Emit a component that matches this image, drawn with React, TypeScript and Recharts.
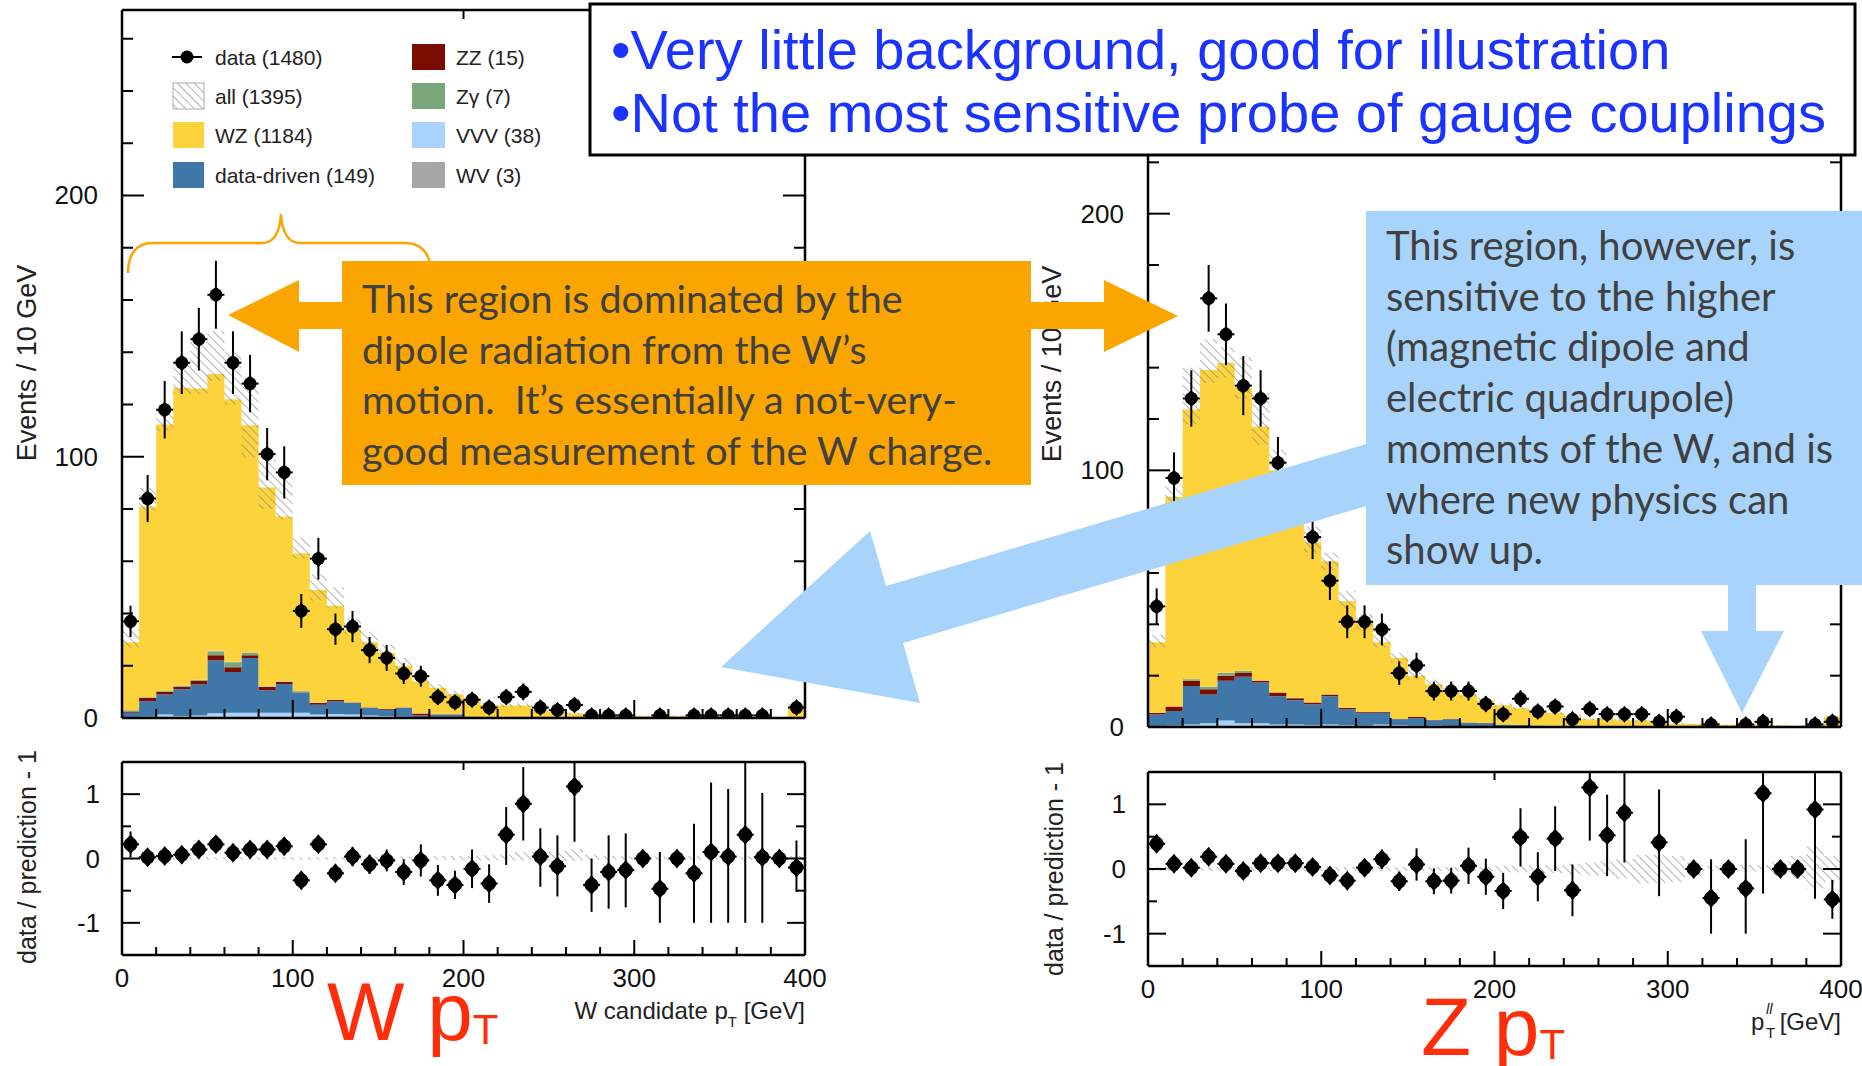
import React from "react";
import { ComposedChart, Area, Scatter, ErrorBar, XAxis, YAxis } from "recharts";

// ---- binning / axes ----
const binEdges = [0, 10, 20, 30, 40, 50, 60, 70, 80, 90, 100, 110, 120, 130, 140, 150, 160, 170, 180, 190,
  200, 210, 220, 230, 240, 250, 260, 270, 280, 290, 300, 310, 320, 330, 340, 350, 360, 370, 380, 390];
const binWidth = 10;
const xMax = 400;
const xTicks = [0, 20, 40, 60, 80, 100, 120, 140, 160, 180, 200, 220, 240, 260, 280, 300, 320, 340, 360, 380, 400];
const yTicksMain = [0, 20, 40, 60, 80, 100, 120, 140, 160, 180, 200, 220, 240, 260];
const yTicksRatio = [-1.5, -1, -0.5, 0, 0.5, 1, 1.5];

// ---- W candidate pT (left) ----
const wData = [37, 84, 118, 136, 145, 162, 136, 128, 101, 94, 41, 61, 34, 35, 26, 23, 17, 16, 8, 6,
  7, 4, 8, 10, 4, 3, 5, 1, 1, 1, null, 1, null, 1, 1, 1, 1, 1, null, 4];
const wDataErr = [6, 9, 11, 12, 12, 13, 12, 11, 10, 10, 6.5, 8, 6, 6, 5, 5, 4, 4, 3, 2.5,
  2.6, 2, 2.8, 3.2, 2, 1.7, 2.2, 1, 1, 1, 0, 1, 0, 1, 1, 1, 1, 1, 0, 2];
const wVVV = [0.3, 0.5, 1.3, 0.8, 1, 1.8, 2, 2, 2, 2, 2, 1.3, 1.5, 1.3, 1, 0.8, 0.5, 0.3, 0.3, 0.3,
  0.2, 0.2, 0.1, 0.1, 0.1, 0.1, 0.1, 0.1, 0.1, 0.1, 0.1, 0.1, 0.1, 0.1, 0.1, 0.1, 0.1, 0.1, 0.1, 0.1];
const wDD = [1.7, 5.9, 7.7, 10.2, 11.8, 20.2, 15.6, 21, 8.6, 11, 7.6, 3.8, 4.9, 4.4, 2.8, 2.4, 3.3, 0.7, 1, 1,
  0.3, 0.2, 0.2, 0.2, 0.2, 0.2, 0.2, 0.1, 0.1, 0.1, 0.1, 0.1, 0.1, 0.1, 0.1, 0.1, 0.1, 0.1, 0.1, 0.1];
const wZZ = [0.5, 1.3, 1, 1, 1.5, 2, 1.8, 1, 1.3, 0.8, 0.2, 0.6, 0.6, 0.2, 0.2, 0.2, 0.2, 0.7, 0.1, 0.1,
  0.1, 0, 0, 0, 0, 0, 0, 0, 0, 0, 0, 0, 0, 0, 0, 0, 0, 0, 0, 0];
const wZg = [0.5, 0.2, 0.2, 0.3, 0.2, 1.5, 1.9, 1, 0.2, 0.2, 0.4, 0.1, 0, 0, 0, 0, 0, 0, 0, 0,
  0, 0, 0, 0, 0, 0, 0, 0, 0, 0, 0, 0, 0, 0, 0, 0, 0, 0, 0, 0];
const wWV = [0, 0, 0.1, 0.1, 0.1, 0.2, 0.2, 0.1, 0.1, 0.1, 0.1, 0, 0, 0, 0, 0, 0, 0, 0, 0,
  0, 0, 0, 0, 0, 0, 0, 0, 0, 0, 0, 0, 0, 0, 0, 0, 0, 0, 0, 0];
const wWZ = [26, 73, 102, 114, 111.5, 106, 100.5, 87, 76, 63, 52.8, 43.2, 36, 28, 25, 21.6, 16, 12.3, 10.2, 7.7,
  6.9, 4.6, 4.5, 4.5, 2.7, 2, 1.4, 0.8, 0.8, 0.8, 0.6, 0.6, 0.6, 0.3, 0.3, 0.3, 0.3, 0.3, 0.2, 4.6];
const wAllLo = [27, 79, 110, 124, 124, 129, 120, 100, 80, 76, 61, 45, 42, 32, 27, 23, 18, 13, 10.5, 8,
  6.8, 4.5, 4.2, 4.2, 2.6, 2, 1.4, 0.8, 0.8, 0.8, 0.6, 0.6, 0.6, 0.3, 0.3, 0.3, 0.3, 0.3, 0.2, 4.2];
const wAllHi = [34, 88, 120, 136, 144, 148, 140, 127, 99, 92, 69, 55, 50, 38, 33, 28, 23, 16, 13, 10.5,
  8.5, 6, 5.6, 5.6, 3.6, 2.8, 2.1, 1.3, 1.3, 1.3, 1.1, 1.1, 1.1, 0.6, 0.6, 0.6, 0.6, 0.6, 0.5, 5.5];
const wRatio = [0.22, 0.02, 0.04, 0.06, 0.14, 0.22, 0.09, 0.14, 0.14, 0.19, -0.34, 0.22, -0.23, 0.03, -0.09, -0.03, -0.21, -0.03, -0.34, -0.41,
  -0.16, -0.39, 0.37, 0.85, 0.03, -0.12, 1.12, -0.41, -0.21, -0.18, 0, -0.47, 0, -0.23, 0.1, 0.03, 0.37, 0.02, 0, -0.14];
const wRatioLo = [0.2, 0.05, 0.05, 0.05, 0.05, 0.05, 0.05, 0.05, 0.06, 0.06, 0.1, 0.12, 0.12, 0.15, 0.15, 0.17, 0.2, 0.25, 0.24, 0.22,
  0.3, 0.3, 0.47, 0.57, 0.47, 0.47, 0.86, 0.42, 0.57, 0.58, 0, 0.53, 0, 0.77, 1.1, 1.03, 1.37, 1.02, 0, 0.38];
const wRatioHi = [0.2, 0.05, 0.05, 0.05, 0.05, 0.05, 0.05, 0.05, 0.06, 0.06, 0.1, 0.12, 0.12, 0.15, 0.15, 0.17, 0.2, 0.25, 0.24, 0.22,
  0.3, 0.3, 0.43, 0.57, 0.44, 0.48, 0.38, 0.41, 0.57, 0.57, 0, 0.57, 0, 0.77, 1.08, 1.05, 1.13, 1, 0, 0.42];
const wBandLo = [-0.03, -0.02, -0.02, -0.02, -0.02, -0.02, -0.02, -0.02, -0.02, -0.02, -0.02, -0.02, -0.02, -0.02, -0.02, -0.02, -0.02, -0.02, -0.02, -0.02,
  -0.03, -0.03, -0.03, -0.03, -0.03, -0.04, -0.04, -0.02, -0.02, -0.02, -0.02, -0.02, -0.02, -0.02, -0.02, -0.02, -0.02, -0.02, -0.02, -0.03];
const wBandHi = [0.03, 0.02, 0.02, 0.02, 0.02, 0.02, 0.02, 0.02, 0.02, 0.02, 0.02, 0.02, 0.02, 0.03, 0.03, 0.03, 0.03, 0.03, 0.04, 0.04,
  0.04, 0.05, 0.06, 0.1, 0.1, 0.12, 0.15, 0.06, 0.04, 0.03, 0.03, 0.03, 0.03, 0.04, 0.05, 0.03, 0.03, 0.03, 0.03, 0.04];

// ---- Z pT (right) ----
const zData = [47, 97, 128, 167, 153, 133, 128, 103, 90, 74, 57, 41, 41, 38, 21, 24, 14, 14, 14, 9,
  5, 11, 6, 8, 3, 7, 5, 5, 5, 2, 4, null, 1, null, 1, 2, null, null, 1, 2];
const zDataErr = [7, 10, 11, 13, 12, 11.5, 11, 10, 9.5, 8.6, 7.5, 6.4, 6.4, 6.2, 4.6, 4.9, 3.7, 3.7, 3.7, 3,
  2.2, 3.3, 2.4, 2.8, 1.7, 2.6, 2.2, 2.2, 2.2, 1.4, 2, 0, 1, 0, 1, 1.4, 0, 0, 1, 1.4];
const zVVV = [0, 0.5, 1, 1.5, 2.5, 1.5, 1.5, 1, 1, 0.8, 1, 0.8, 0.5, 1, 0.8, 0.5, 0.5, 0.3, 0.3, 0.3,
  0.1, 0.1, 0.1, 0.1, 0.1, 0.1, 0.1, 0.1, 0.1, 0.1, 0.1, 0.1, 0.1, 0.1, 0.1, 0.1, 0.1, 0.1, 0.1, 0.1];
const zDD = [4.9, 5.7, 15, 11.2, 15.5, 18.1, 15.8, 11, 9.4, 8, 11, 6.1, 5.1, 4.6, 2.2, 2.9, 2.1, 2.7, 1.4, 1.2,
  0.9, 0.7, 0.5, 0.4, 0.3, 0.3, 0.2, 0.2, 0.2, 0.1, 0.1, 0.1, 0.1, 0.1, 0.1, 0.1, 0.1, 0.1, 0.1, 0.1];
const zZZ = [0.7, 1.8, 2, 2, 2, 1.4, 0.7, 1.4, 0.8, 0.7, 0.7, 0.6, 0.2, 0.2, 0.1, 0.5, 0.1, 0.1, 0.1, 0.1,
  0, 0, 0, 0, 0, 0, 0, 0, 0, 0, 0, 0, 0, 0, 0, 0, 0, 0, 0, 0];
const zZg = [0, 0, 0.6, 1, 1, 0.8, 0, 0, 0.2, 0, 0, 0, 0, 0, 0, 0, 0, 0, 0, 0,
  0, 0, 0, 0, 0, 0, 0, 0, 0, 0, 0, 0, 0, 0, 0, 0, 0, 0, 0, 0];
const zWV = [0, 0, 0.1, 0.1, 0.1, 0.1, 0.1, 0, 0, 0, 0, 0, 0, 0, 0, 0, 0, 0, 0, 0,
  0, 0, 0, 0, 0, 0, 0, 0, 0, 0, 0, 0, 0, 0, 0, 0, 0, 0, 0, 0];
const zWZ = [27.4, 81.6, 105, 123.3, 120.7, 110.2, 99, 86.6, 74.6, 62.5, 51.9, 41.5, 35.2, 27.2, 23.9, 16.1, 14, 10.9, 10.7, 8.8,
  7.5, 6.5, 5.4, 5, 4, 2.6, 2.9, 2.3, 2.2, 1.3, 1.1, 1, 1.6, 0.7, 1.2, 0.8, 0.4, 0.3, 0.4, 3.8];
const zAllLo = [31, 86, 118, 134, 136, 128, 110, 94, 80, 68, 61, 46, 38, 31, 25, 18.5, 15.5, 13, 11.5, 9.5,
  7.8, 6.7, 5.5, 5, 4, 2.7, 2.9, 2.3, 2.1, 1.3, 1.1, 1, 1.5, 0.6, 1.1, 0.7, 0.4, 0.3, 0.3, 3.4];
const zAllHi = [36, 94, 140, 151, 148, 144, 130, 108, 93, 78, 68, 53, 44, 36, 29, 22, 18.5, 15.5, 13.8, 11.5,
  9.3, 8, 6.6, 6, 4.9, 3.4, 3.6, 3, 2.8, 1.8, 1.6, 1.4, 2.1, 1, 1.7, 1.1, 0.7, 0.6, 0.8, 4.6];
const zRatio = [0.39, 0.08, 0.02, 0.19, 0.08, -0.03, 0.09, 0.09, 0.09, 0.03, -0.1, -0.18, 0.02, 0.15, -0.19, 0.07, -0.19, -0.18, 0.05, -0.12,
  -0.34, 0.49, -0.12, 0.47, -0.33, 1.26, 0.52, 0.87, null, 0.41, null, 0, -0.45, 0, -0.3, 1.17, 0, 0, 0.92, -0.47];
const zRatioLo = [0.08, 0.06, 0.06, 0.06, 0.06, 0.06, 0.06, 0.06, 0.06, 0.06, 0.08, 0.1, 0.1, 0.15, 0.15, 0.25, 0.2, 0.2, 0.28, 0.28,
  0.28, 0.45, 0.38, 0.5, 0.4, 0.82, 0.63, 0.77, 0, 0.83, 0, 0, 0.55, 0, 0.7, 1.55, 0, 0, 1.38, 0.3];
const zRatioHi = [0.08, 0.06, 0.06, 0.06, 0.06, 0.06, 0.06, 0.06, 0.06, 0.06, 0.08, 0.1, 0.1, 0.15, 0.15, 0.25, 0.2, 0.2, 0.28, 0.28,
  0.28, 0.45, 0.38, 0.5, 0.4, 0.23, 0.63, 0.62, 0, 0.82, 0, 0, 0.6, 0, 0.76, 0.33, 0, 0, 0.57, 0.3];
const zBandLo = [-0.03, -0.03, -0.03, -0.03, -0.03, -0.03, -0.03, -0.03, -0.03, -0.03, -0.03, -0.03, -0.03, -0.03, -0.03, -0.03, -0.03, -0.03, -0.03, -0.03,
  -0.05, -0.05, -0.06, -0.06, -0.08, -0.1, -0.1, -0.15, -0.22, -0.22, -0.2, -0.1, -0.03, -0.03, -0.04, -0.04, -0.1, -0.15, -0.3, -0.2];
const zBandHi = [0.03, 0.03, 0.03, 0.03, 0.03, 0.03, 0.03, 0.03, 0.03, 0.03, 0.03, 0.03, 0.03, 0.03, 0.03, 0.03, 0.03, 0.03, 0.03, 0.03,
  0.05, 0.05, 0.06, 0.06, 0.08, 0.1, 0.12, 0.15, 0.22, 0.22, 0.2, 0.1, 0.05, 0.05, 0.06, 0.06, 0.12, 0.2, 0.35, 0.2];

// ---- text ----
const legendLeft = ["data (1480)", "all (1395)", "WZ (1184)", "data-driven (149)"];
const legendRight = ["ZZ (15)", "Zγ (7)", "VVV (38)", "WV (3)"];
const bulletLines = ["•Very little background, good for illustration", "•Not the most sensitive probe of gauge couplings"];
const orangeLines = ["This region is dominated by the", "dipole radiation from the W’s", "motion.  It’s essentially a not-very-", "good measurement of the W charge."];
const blueLines = ["This region, however, is", "sensitive to the higher", "(magnetic dipole and", "electric quadrupole)", "moments of the W, and is", "where new physics can", "show up."];

const C = { vvv: "#a9d3fb", dd: "#3f78a8", zz: "#7b0c02", zg: "#7aa87a", wv: "#a6a6a6", wz: "#fdd33c" };
const FONT = "'Liberation Sans', Arial, sans-serif";
const CAL = "Lato, 'Open Sans', sans-serif";
const AXIS = { stroke: "#000", strokeWidth: 2.5 };
const ORANGE = "#faa500";
const SKY = "#a8d4fb";

type Side = "left" | "right" | "top" | "bottom";

function makeTick(side: Side, isMajor: (v: number) => boolean, majorLen: number, minorLen: number, labelOff?: number) {
  return (p: any) => {
    const v = p.payload.value;
    const major = isMajor(v);
    const len = major ? majorLen : minorLen;
    const { x, y } = p;
    const x2 = side === "left" ? x + len : side === "right" ? x - len : x;
    const y2 = side === "top" ? y + len : side === "bottom" ? y - len : y;
    let label = null;
    if (labelOff !== undefined && major) {
      label = side === "left" ? (
        <text x={x - labelOff} y={y + 9} textAnchor="end" fontSize={26} fontFamily={FONT} fill="#111">{v}</text>
      ) : (
        <text x={x} y={y + labelOff} textAnchor="middle" fontSize={26} fontFamily={FONT} fill="#111">{v}</text>
      );
    }
    return (
      <g>
        <line x1={x} y1={y} x2={x2} y2={y2} stroke="#000" strokeWidth={2} />
        {label}
      </g>
    );
  };
}

const major100 = (v: number) => v % 100 === 0;
const majorInt = (v: number) => Math.abs(v - Math.round(v)) < 1e-6;

function hatchPattern(id: string) {
  return (
    <pattern id={id} width="6" height="6" patternUnits="userSpaceOnUse" patternTransform="rotate(-45)">
      <line x1="0" y1="0" x2="0" y2="6" stroke="#8a8a8a" strokeWidth="1.3" />
    </pattern>
  );
}

function stepRows(cols: Record<string, number[]>, lo: number[], hi: number[]) {
  const rows = binEdges.map((x, i) => {
    const r: any = { x, band: [lo[i], hi[i]] };
    Object.keys(cols).forEach((k) => (r[k] = cols[k][i]));
    return r;
  });
  return [...rows, { ...rows[rows.length - 1], x: xMax }];
}

function centerPoints(vals: (number | null)[], errLo: number[], errHi?: number[]) {
  return binEdges
    .map((x, i) => ({ x: x + binWidth / 2, y: vals[i], e: errHi ? [errLo[i], errHi[i]] : errLo[i] }))
    .filter((p) => p.y !== null);
}

// blurred ROOT marker: round dot merged with a diamond
const marker = (r: number, d: number) => (p: any) => (
  <g>
    <line x1={p.cx - 8.5} y1={p.cy} x2={p.cx + 8.5} y2={p.cy} stroke="#000" strokeWidth={2} />
    <circle cx={p.cx} cy={p.cy} r={r} fill="#000" />
    <polygon points={`${p.cx},${p.cy - d} ${p.cx + d * 0.8},${p.cy} ${p.cx},${p.cy + d} ${p.cx - d * 0.8},${p.cy}`} fill="#000" />
  </g>
);

type Frame = { left: number; top: number; width: number; height: number; marginTop: number; topH: number; bottomH: number };

function HistPlot(props: Frame & { id: string; yMax: number; cols: Record<string, number[]>; lo: number[]; hi: number[]; data: (number | null)[]; err: number[] }) {
  const { id, left, top, width, height, marginTop, topH, bottomH, yMax } = props;
  const rows = stepRows(props.cols, props.lo, props.hi);
  const pts = centerPoints(props.data, props.err);
  const order = ["vvv", "dd", "zz", "zg", "wv", "wz"];
  return (
    <div style={{ position: "absolute", left, top }}>
      <ComposedChart width={width} height={height} data={rows} margin={{ top: marginTop, right: 5, bottom: 0, left: 62 }}>
        <defs>{hatchPattern(id + "hatch")}</defs>
        <XAxis xAxisId="b" dataKey="x" type="number" domain={[0, xMax]} allowDataOverflow ticks={xTicks} interval={0}
          height={bottomH} tickSize={0} tickMargin={0} axisLine={AXIS} tickLine={false} tick={makeTick("bottom", major100, 18, 9)} />
        <XAxis xAxisId="t" orientation="top" type="number" domain={[0, xMax]} allowDataOverflow ticks={xTicks} interval={0}
          height={topH} tickSize={0} tickMargin={0} axisLine={AXIS} tickLine={false} tick={makeTick("top", major100, 18, 9)} />
        <YAxis yAxisId="l" type="number" domain={[0, yMax]} allowDataOverflow ticks={yTicksMain} interval={0}
          width={60} tickSize={0} tickMargin={0} axisLine={AXIS} tickLine={false} tick={makeTick("left", major100, 22, 11, 24)} />
        <YAxis yAxisId="r" orientation="right" type="number" domain={[0, yMax]} allowDataOverflow ticks={yTicksMain} interval={0}
          width={20} tickSize={0} tickMargin={0} axisLine={AXIS} tickLine={false} tick={makeTick("right", major100, 22, 11)} />
        {order.map((k) => (
          <Area key={k} xAxisId="b" yAxisId="l" type="stepAfter" dataKey={k} stackId="s" fill={(C as any)[k]} fillOpacity={1}
            stroke="none" dot={false} activeDot={false} isAnimationActive={false} />
        ))}
        <Area xAxisId="b" yAxisId="l" type="stepAfter" dataKey="band" fill={`url(#${id}hatch)`} fillOpacity={1}
          stroke="none" dot={false} activeDot={false} isAnimationActive={false} />
        <Scatter xAxisId="b" yAxisId="l" data={pts} dataKey="y" shape={marker(6.5, 8.5)} isAnimationActive={false}>
          <ErrorBar dataKey="e" direction="y" width={0} stroke="#000" strokeWidth={2} />
        </Scatter>
      </ComposedChart>
    </div>
  );
}

function RatioPlot(props: Frame & { id: string; vals: (number | null)[]; lo: number[]; hi: number[]; bandLo: number[]; bandHi: number[] }) {
  const { id, left, top, width, height, marginTop, topH, bottomH } = props;
  const rows = stepRows({}, props.bandLo, props.bandHi);
  const pts = centerPoints(props.vals, props.lo, props.hi);
  return (
    <div style={{ position: "absolute", left, top }}>
      <ComposedChart width={width} height={height} data={rows} margin={{ top: marginTop, right: 5, bottom: 0, left: 62 }}>
        <defs>{hatchPattern(id + "hatch")}</defs>
        <XAxis xAxisId="b" dataKey="x" type="number" domain={[0, xMax]} allowDataOverflow ticks={xTicks} interval={0}
          height={bottomH} tickSize={0} tickMargin={0} axisLine={AXIS} tickLine={false} tick={makeTick("bottom", major100, 15, 8, 32)} />
        <XAxis xAxisId="t" orientation="top" type="number" domain={[0, xMax]} allowDataOverflow ticks={xTicks} interval={0}
          height={topH} tickSize={0} tickMargin={0} axisLine={AXIS} tickLine={false} tick={makeTick("top", major100, 15, 8)} />
        <YAxis yAxisId="l" type="number" domain={[-1.5, 1.5]} allowDataOverflow ticks={yTicksRatio} interval={0}
          width={60} tickSize={0} tickMargin={0} axisLine={AXIS} tickLine={false} tick={makeTick("left", majorInt, 18, 9, 22)} />
        <YAxis yAxisId="r" orientation="right" type="number" domain={[-1.5, 1.5]} allowDataOverflow ticks={yTicksRatio} interval={0}
          width={20} tickSize={0} tickMargin={0} axisLine={AXIS} tickLine={false} tick={makeTick("right", majorInt, 18, 9)} />
        <Area xAxisId="b" yAxisId="l" type="stepAfter" dataKey="band" fill={`url(#${id}hatch)`} fillOpacity={1}
          stroke="none" dot={false} activeDot={false} isAnimationActive={false} />
        <Scatter xAxisId="b" yAxisId="l" data={pts} dataKey="y" shape={marker(7, 10)} isAnimationActive={false}>
          <ErrorBar dataKey="e" direction="y" width={0} stroke="#000" strokeWidth={2} />
        </Scatter>
      </ComposedChart>
    </div>
  );
}

function Overlay() {
  const legRows = [57, 96, 135, 175];
  const leftSw = [null, "url(#legHatch)", C.wz, C.dd];
  const rightSw = [C.zz, C.zg, C.vvv, C.wv];
  const pre = { whiteSpace: "pre" as const };
  return (
    <svg width={1862} height={1066} style={{ position: "absolute", left: 0, top: 0 }}>
      <defs>{hatchPattern("legHatch")}</defs>

      {/* axis titles */}
      <g fontFamily={FONT} fill="#222" textAnchor="middle">
        <text transform="translate(27 363) rotate(-90)" fontSize={27} dominantBaseline="central">Events / 10 GeV</text>
        <text transform="translate(1052 364) rotate(-90)" fontSize={27} dominantBaseline="central">Events / 10 GeV</text>
        <text transform="translate(27 857) rotate(-90)" fontSize={25} dominantBaseline="central">data / prediction - 1</text>
        <text transform="translate(1054 869) rotate(-90)" fontSize={25} dominantBaseline="central">data / prediction - 1</text>
      </g>
      <text x={805} y={1019} textAnchor="end" fontFamily={FONT} fontSize={24} fill="#222">
        W candidate p<tspan fontSize={15} dy={8}>T</tspan><tspan dy={-8}> [GeV]</tspan>
      </text>
      <text x={1751} y={1030} fontFamily={FONT} fontSize={24} fill="#222">p</text>
      <text x={1766} y={1014} fontFamily={FONT} fontSize={15} fontStyle="italic" fill="#222">ll</text>
      <text x={1766} y={1038} fontFamily={FONT} fontSize={15} fill="#222">T</text>
      <text x={1841} y={1030} textAnchor="end" fontFamily={FONT} fontSize={24} fill="#222">[GeV]</text>

      {/* legend */}
      <g fontFamily={FONT} fontSize={21} fill="#222">
        {legendLeft.map((t, i) => (
          <g key={t}>
            {i === 0 ? (
              <g>
                <line x1={172} y1={legRows[i]} x2={202} y2={legRows[i]} stroke="#000" strokeWidth={2} />
                <circle cx={187} cy={legRows[i]} r={6.5} fill="#000" />
              </g>
            ) : (
              <rect x={173} y={legRows[i] - 13} width={31} height={26} fill={leftSw[i] as string} stroke={i === 1 ? "#aaa" : "none"} />
            )}
            <text x={215} y={legRows[i] + 8}>{t}</text>
          </g>
        ))}
        {legendRight.map((t, i) => (
          <g key={t}>
            <rect x={412} y={legRows[i] - 13} width={33} height={26} fill={rightSw[i]} />
            <text x={456} y={legRows[i] + 8}>{t}</text>
          </g>
        ))}
      </g>

      {/* red plot names */}
      <g fontFamily={FONT} fill="#ff2d0a">
        <text x={327} y={1040} fontSize={82}>W p<tspan fontSize={42} dy={4}>T</tspan></text>
        <text x={1421} y={1055} fontSize={82}>Z p<tspan fontSize={42} dy={4}>T</tspan></text>
      </g>

      {/* orange brace */}
      <path d="M128,273 C128,255 136,243 152,243 L262,243 C275,243 280,230 281,214 C282,230 287,243 300,243 L405,243 C420,243 428,252 430,264"
        fill="none" stroke={ORANGE} strokeWidth={2.5} />

      {/* orange double arrow and box */}
      <polygon points="228,315 299,280 299,302 345,302 345,329 299,329 299,352" fill={ORANGE} />
      <polygon points="1178,316 1104,280 1104,302 1028,302 1028,329 1104,329 1104,352" fill={ORANGE} />
      <rect x={342} y={261} width={689} height={224} fill={ORANGE} />
      <g fontFamily={CAL} fontSize={39.5} fill="#404040">
        {orangeLines.map((t, i) => (
          <text key={i} x={362} y={313 + i * 50.5} style={pre}>{t}</text>
        ))}
      </g>

      {/* blue arrows and box */}
      <polygon points="721,667 870,531 886,586 1380,440 1380,502 903,643 920,703" fill={SKY} />
      <rect x={1728} y={580} width={28} height={52} fill={SKY} />
      <polygon points="1701,631 1784,631 1742,713" fill={SKY} />
      <rect x={1366} y={211} width={496} height={374} fill={SKY} />
      <g fontFamily={CAL} fontSize={40} fill="#404040">
        {blueLines.map((t, i) => (
          <text key={i} x={1386} y={260 + i * 50.7}>{t}</text>
        ))}
      </g>

      {/* top text box */}
      <rect x={590} y={4} width={1265} height={151} fill="#fff" stroke="#000" strokeWidth={3} />
      <g fontFamily={FONT} fontSize={56} fill="#1a33ff">
        {bulletLines.map((t, i) => (
          <text key={i} x={611} y={69 + i * 63}>{t}</text>
        ))}
      </g>
    </svg>
  );
}

export default function App() {
  const wCols = { vvv: wVVV, dd: wDD, zz: wZZ, zg: wZg, wv: wWV, wz: wWZ };
  const zCols = { vvv: zVVV, dd: zDD, zz: zZZ, zg: zZg, wv: zWV, wz: zWZ };
  return (
    <div style={{ position: "absolute", left: 0, top: 0, width: 1862, height: 1066, background: "#fff", overflow: "hidden" }}>
      <HistPlot id="w" left={0} top={0} width={830} height={740} marginTop={0} topH={10} bottomH={22} yMax={271}
        cols={wCols} lo={wAllLo} hi={wAllHi} data={wData} err={wDataErr} />
      <HistPlot id="z" left={1026} top={0} width={840} height={749} marginTop={24} topH={10} bottomH={22} yMax={270}
        cols={zCols} lo={zAllLo} hi={zAllHi} data={zData} err={zDataErr} />
      <RatioPlot id="wr" left={0} top={745} width={830} height={270} marginTop={0} topH={17} bottomH={60}
        vals={wRatio} lo={wRatioLo} hi={wRatioHi} bandLo={wBandLo} bandHi={wBandHi} />
      <RatioPlot id="zr" left={1026} top={745} width={840} height={280} marginTop={0} topH={27} bottomH={59}
        vals={zRatio} lo={zRatioLo} hi={zRatioHi} bandLo={zBandLo} bandHi={zBandHi} />
      <Overlay />
    </div>
  );
}
